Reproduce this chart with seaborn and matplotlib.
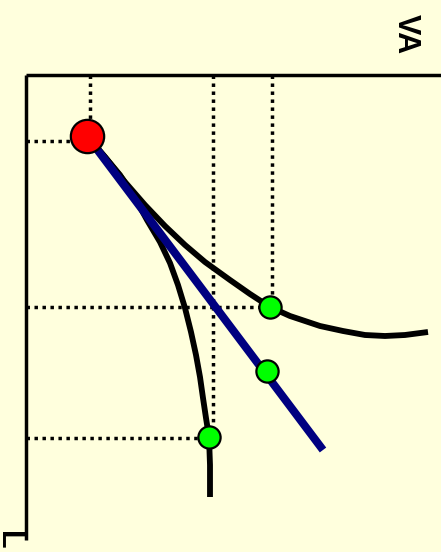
import numpy as np
import pandas as pd
import matplotlib
matplotlib.use("Agg")
import matplotlib.pyplot as plt
import seaborn as sns

# curves (pixel-like coords, y grows downward)
upper_x = [87, 105, 125, 145, 165, 185, 205, 230, 250, 270, 290, 320, 343, 365, 385, 405, 428]
upper_y = [136, 157, 182, 205, 226, 245, 262, 280, 294, 307, 316, 326, 331, 335, 336, 335, 332]

lower_x = [87, 105, 120, 135, 147, 160, 170, 178, 185, 191, 196, 200, 203, 206, 209, 210, 210]
lower_y = [136, 157, 175, 198, 220, 242, 263, 285, 308, 332, 355, 377, 398, 418, 437, 465, 497]

line_x = [87, 323]
line_y = [136, 450]

start_pt = (87, 136)
green_x = [270, 267, 209]
green_y = [307, 371, 437]

# dotted guide lines: (x0, y0, x1, y1)
guides = [
    (90, 75, 90, 125),
    (26, 141, 75, 141),
    (213, 75, 213, 430),
    (272, 75, 272, 300),
    (26, 307, 262, 307),
    (26, 438, 200, 438),
]

sns.set_style("white")
bg = "#FFFFDD"
fig = plt.figure(figsize=(4.41, 5.52), dpi=100)
fig.patch.set_facecolor(bg)
ax = fig.add_axes([0, 0, 1, 1])
ax.set_facecolor(bg)
ax.set_xlim(0, 441)
ax.set_ylim(552, 0)
ax.axis("off")

# axes lines
ax.plot([26, 441], [75, 75], color="black", lw=2.5, solid_capstyle="butt")
ax.plot([26, 26], [75, 540], color="black", lw=2.5, solid_capstyle="butt")

for x0, y0, x1, y1 in guides:
    ax.plot([x0, x1], [y0, y1], color="black", lw=2.5,
            linestyle=(0, (1, 1.3)), dash_capstyle="butt", zorder=2)

n0 = len(ax.lines)
sns.lineplot(x=lower_x, y=lower_y, sort=False, estimator=None, ax=ax,
             color="black", zorder=3)
sns.lineplot(x=upper_x, y=upper_y, sort=False, estimator=None, ax=ax,
             color="black", zorder=3)
sns.lineplot(x=line_x, y=line_y, sort=False, estimator=None, ax=ax,
             color="#000080", zorder=4)
for i, l in enumerate(ax.lines[n0:]):
    l.set_linewidth(5.8 if i == 2 else 4.2)
    l.set_solid_capstyle("butt")
    l.set_solid_joinstyle("round")

ax.scatter(green_x, green_y, s=16 ** 2, color="#00FF00", edgecolor="black",
           linewidth=1.6, zorder=5)
ax.scatter([start_pt[0]], [start_pt[1]], s=24 ** 2, color="#FF0000",
           edgecolor="black", linewidth=1.6, zorder=6)

ax.text(398, 14, "VA", rotation=-90, rotation_mode="anchor", ha="left",
        va="baseline", fontsize=22, fontweight="bold", color="black",
        family="Liberation Sans")
ax.text(0, 531, "L", rotation=-90, rotation_mode="anchor", ha="left",
        va="baseline", fontsize=22, fontweight="bold", color="black",
        family="Liberation Sans")

fig.savefig("out.png", dpi=100, facecolor=bg)
